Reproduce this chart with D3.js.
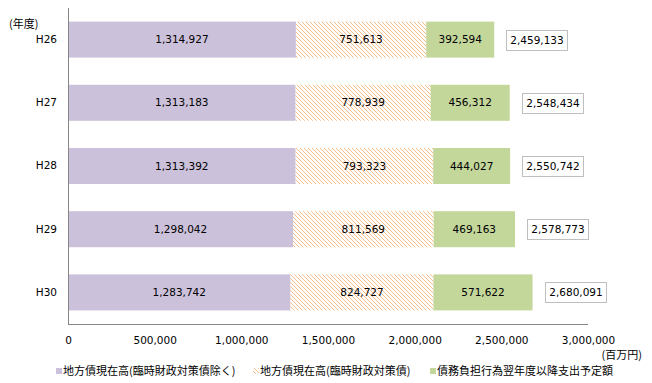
<!DOCTYPE html>
<html>
<head>
<meta charset="utf-8">
<script src="https://cdn.jsdelivr.net/npm/d3@7"></script>
<style>
  body { margin: 0; background: #fff; }
  svg text { font-family: "Noto Sans CJK JP", "Noto Sans", sans-serif; font-size: 11px; fill: #000; }
  svg text.num { font-family: "DejaVu Sans", sans-serif; font-size: 10.5px; }
</style>
</head>
<body>
<svg width="652" height="383"></svg>
<script>
(function() {
  var years = ['H26', 'H27', 'H28', 'H29', 'H30'];
  var seriesNames = ['地方債現在高(臨時財政対策債除く)', '地方債現在高(臨時財政対策債)', '債務負担行為翌年度以降支出予定額'];
  var debtExcl = [1314927, 1313183, 1313392, 1298042, 1283742];
  var debtTemp = [751613, 778939, 793323, 811569, 824727];
  var futureBurden = [392594, 456312, 444027, 469163, 571622];
  var totals = [2459133, 2548434, 2550742, 2578773, 2680091];
  var xTicks = [0, 500000, 1000000, 1500000, 2000000, 2500000, 3000000];

  var svg = d3.select('svg');
  var fmt = d3.format(',');

  var x = d3.scaleLinear().domain([0, 3000000]).range([68, 588]);
  var y = d3.scaleBand().domain(years).range([8, 324]).paddingInner(0.43).paddingOuter(0.215);

  var defs = svg.append('defs');
  var pat = defs.append('pattern').attr('id', 'hatch')
    .attr('patternUnits', 'userSpaceOnUse').attr('width', 4).attr('height', 4);
  pat.append('rect').attr('width', 4).attr('height', 4).attr('fill', '#fff');
  pat.append('path').attr('d', 'M0,0L4,4M-1,3L1,5M3,-1L5,1')
    .attr('stroke', '#f9bd8c').attr('stroke-width', 1);

  var fills = ['#ccc1da', 'url(#hatch)', '#c4d79b'];
  var series = [debtExcl, debtTemp, futureBurden];

  var rows = years.map(function(yr, i) {
    var start = 0;
    return series.map(function(s, k) {
      var seg = { year: yr, k: k, x0: start, x1: start + s[i], v: s[i] };
      start += s[i];
      return seg;
    });
  });

  var g = svg.append('g');
  rows.forEach(function(segs) {
    g.selectAll(null).data(segs).enter().append('rect')
      .attr('x', function(d) { return x(d.x0); })
      .attr('y', function(d) { return y(d.year); })
      .attr('width', function(d) { return x(d.x1) - x(d.x0); })
      .attr('height', y.bandwidth())
      .attr('fill', function(d) { return fills[d.k]; });
    g.selectAll(null).data(segs).enter().append('text')
      .attr('class', 'num')
      .attr('x', function(d) { return (x(d.x0) + x(d.x1)) / 2; })
      .attr('y', function(d) { return y(d.year) + y.bandwidth() / 2; })
      .attr('dy', '0.35em')
      .attr('text-anchor', 'middle')
      .text(function(d) { return fmt(d.v); });
  });

  // total boxes
  var tot = svg.append('g').selectAll('g').data(totals).enter().append('g')
    .attr('transform', function(d, i) {
      return 'translate(' + (Math.round(x(d)) + 12.5) + ',' + (Math.round(y(years[i]) + y.bandwidth() / 2) + 0.5) + ')';
    });
  tot.append('rect').attr('x', 0).attr('y', -10).attr('width', 61).attr('height', 20)
    .attr('fill', '#fff').attr('stroke', '#bfbfbf');
  tot.append('text').attr('class', 'num').attr('x', 30.5).attr('dy', '0.35em').attr('text-anchor', 'middle')
    .text(function(d) { return fmt(d); });

  // axes
  svg.append('line').attr('x1', 68.5).attr('x2', 68.5).attr('y1', 8).attr('y2', 324.5)
    .attr('stroke', '#868686');
  svg.append('line').attr('x1', 68).attr('x2', 588).attr('y1', 324.5).attr('y2', 324.5)
    .attr('stroke', '#868686');

  var xAxis = svg.append('g').attr('transform', 'translate(0,324)')
    .call(d3.axisBottom(x).tickValues(xTicks).tickSize(0).tickPadding(13).tickFormat(fmt));
  xAxis.select('.domain').remove();
  xAxis.selectAll('text').attr('font-size', null).attr('font-family', null).attr('class', 'num');

  var yAxis = svg.append('g').attr('transform', 'translate(68,0)')
    .call(d3.axisLeft(y).tickSize(0).tickPadding(11));
  yAxis.select('.domain').remove();
  yAxis.selectAll('text').attr('font-size', null).attr('font-family', null).attr('class', 'num');

  svg.append('text').attr('x', 9).attr('y', 24).attr('dy', '0.35em').text('(年度)');
  svg.append('text').attr('x', 642).attr('y', 355).attr('dy', '0.35em')
    .attr('text-anchor', 'end').text('(百万円)');

  // legend
  var legX = [56, 253, 430];
  var leg = svg.append('g').selectAll('g').data(seriesNames).enter().append('g')
    .attr('transform', function(d, i) { return 'translate(' + legX[i] + ',371)'; });
  leg.append('rect').attr('x', 0).attr('y', -3).attr('width', 6).attr('height', 6)
    .attr('fill', function(d, i) { return fills[i]; });
  leg.append('text').attr('x', 7).attr('dy', '0.35em').text(function(d) { return d; });
})();
</script>
</body>
</html>
